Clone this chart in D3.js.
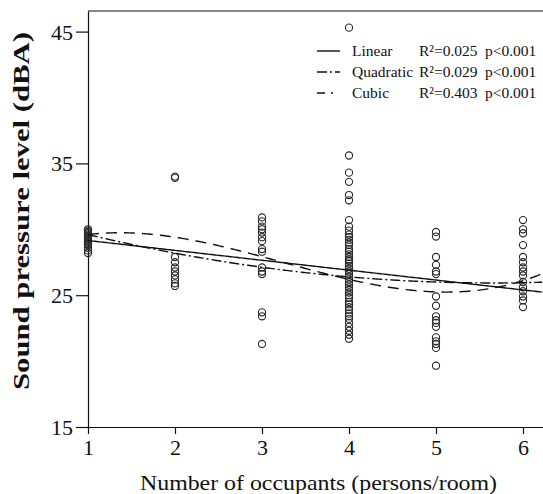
<!DOCTYPE html>
<html lang="en">
  <head>
    <meta charset="utf-8">
    <title>Sound pressure level vs occupants</title>
    <script type="text/javascript" src="https://cdn.jsdelivr.net/npm/d3@7"></script>
    <style type="text/css">
      body { margin: 0; background: #fff; }
      text { font-family: "Liberation Serif", "Times New Roman", serif; fill: #111; }
    </style>
  </head>
  <body>
    <script type="text/javascript">

      //Width and height
      var w = 543;
      var h = 494;

      //Observed values per occupancy (dBA)
      var occupants = [1, 2, 3, 4, 5, 6];
      var spl1 = [30.0, 29.9, 29.8, 29.7, 29.6, 29.5, 29.4, 29.3, 29.2, 29.1, 29.0, 28.9, 28.8, 28.6, 28.4, 28.2];
      var spl2 = [34.0, 33.9, 27.9, 27.5, 27.1, 26.8, 26.5, 26.2, 25.9, 25.7];
      var spl3 = [30.9, 30.6, 30.2, 30.0, 29.75, 29.4, 29.1, 28.5, 28.3, 27.1, 26.8, 26.6, 23.7, 23.4, 21.3];
      var spl4 = [45.3, 35.6, 34.3, 33.6, 32.6, 32.2, 30.7, 30.2, 29.9, 29.6, 29.4, 29.2, 29.0, 28.8, 28.5, 28.3,
                  28.1, 27.9, 27.7, 27.6, 27.4, 27.2, 27.0, 26.8, 26.6, 26.4, 26.2, 26.0, 25.8, 25.6, 25.4,
                  25.2, 25.0, 24.8, 24.5, 24.3, 24.1, 23.9, 23.6, 23.4, 23.2, 22.9, 22.6, 22.3, 22.0, 21.7];
      var spl5 = [29.8, 29.45, 27.9, 27.3, 26.8, 26.6, 24.9, 24.2, 23.4, 23.1, 22.9, 22.6, 21.8, 21.5, 21.3, 21.0, 19.65];
      var spl6 = [30.7, 30.0, 29.7, 28.8, 27.9, 27.5, 27.1, 26.8, 26.5, 26.0, 25.6, 25.3, 24.9, 24.6, 24.1];

      //Fitted curves: polynomial coefficients (constant first)
      var linearCoef = [29.9, -0.75];
      var quadCoef = [31.35, -1.92, 0.17];
      var cubicCoef = [27.5, 3.5917, -1.6625, 0.17083];

      //Legend rows
      var legendNames = ["Linear", "Quadratic", "Cubic"];
      var legendR2 = ["R\u00b2=0.025", "R\u00b2=0.029", "R\u00b2=0.403"];
      var legendP = ["p<0.001", "p<0.001", "p<0.001"];

      //Ticks
      var xTicks = [1, 2, 3, 4, 5, 6];
      var yTicks = [15, 25, 35, 45];

      var groups = [spl1, spl2, spl3, spl4, spl5, spl6];
      var points = [];
      groups.forEach(function(g, i) {
        g.forEach(function(v) { points.push({ x: occupants[i], y: v }); });
      });

      var plotL = 88, plotR = 543, plotT = 11, plotB = 427;

      var xScale = d3.scaleLinear().domain([1, 1 + (plotR - plotL) / 87]).range([plotL, plotR]);
      var yScale = d3.scaleLinear().domain([15, 15 + (plotB - plotT) / 13.18]).range([plotB, plotT]);

      var svg = d3.select("body")
                  .append("svg")
                  .attr("width", w)
                  .attr("height", h);

      //Frame top line
      svg.append("line")
         .attr("x1", plotL).attr("x2", plotR)
         .attr("y1", plotT).attr("y2", plotT)
         .style("stroke", "#111").style("stroke-width", 1.2);

      //Axes
      var xAxis = svg.append("g")
                     .attr("transform", "translate(0," + plotB + ")")
                     .call(d3.axisBottom(xScale).tickValues(xTicks).tickFormat(d3.format("d"))
                             .tickSize(7).tickPadding(5).tickSizeOuter(0));
      var yAxis = svg.append("g")
                     .attr("transform", "translate(" + plotL + ",0)")
                     .call(d3.axisLeft(yScale).tickValues(yTicks).tickFormat(d3.format("d"))
                             .tickSize(12).tickPadding(3).tickSizeOuter(0));

      [xAxis, yAxis].forEach(function(a) {
        a.select(".domain").style("stroke", "#111").style("stroke-width", 1.2);
        a.selectAll(".tick line").style("stroke", "#111").style("stroke-width", 1.2);
        a.selectAll(".tick text")
         .style("font-family", "'Liberation Serif', serif")
         .style("font-size", "22px")
         .style("fill", "#111");
      });
      yAxis.selectAll(".tick text").attr("dy", "0.34em");

      //Points as circles
      svg.append("g")
         .selectAll("circle")
         .data(points)
         .enter()
         .append("circle")
         .attr("cx", function(d) { return xScale(d.x); })
         .attr("cy", function(d) { return yScale(d.y); })
         .attr("r", 3.6)
         .style("fill", "none")
         .style("stroke", "#2a2a2a")
         .style("stroke-width", 1.1);

      //Fit lines
      function poly(c) {
        return function(x) {
          return c.reduce(function(s, k, i) { return s + k * Math.pow(x, i); }, 0);
        };
      }
      var xs = d3.range(1, xScale.domain()[1] + 0.001, 0.02);
      var line = d3.line()
                   .x(function(d) { return xScale(d[0]); })
                   .y(function(d) { return yScale(d[1]); });

      var fits = [
        { coef: linearCoef, dash: null },
        { coef: quadCoef, dash: "10,3,2,3" },
        { coef: cubicCoef, dash: "11,7" }
      ];

      svg.append("g")
         .selectAll("path")
         .data(fits)
         .enter()
         .append("path")
         .attr("d", function(d) {
           var f = poly(d.coef);
           return line(xs.map(function(x) { return [x, f(x)]; }));
         })
         .style("fill", "none")
         .style("stroke", "#111")
         .style("stroke-width", 1.4)
         .style("stroke-dasharray", function(d) { return d.dash; });

      //Legend
      var legend = svg.append("g");
      var rows = legend.selectAll("g")
                       .data(legendNames)
                       .enter()
                       .append("g")
                       .attr("transform", function(d, i) { return "translate(0," + (51 + i * 21) + ")"; });
      rows.append("line")
          .attr("x1", 317).attr("x2", 340)
          .attr("y1", 0).attr("y2", 0)
          .style("stroke", "#111")
          .style("stroke-width", 1.4)
          .style("stroke-dasharray", function(d, i) { return i === 0 ? null : (i === 1 ? "10,3,2,3" : "8,6,2,8"); });
      rows.append("text")
          .attr("x", 352).attr("y", 5)
          .style("font-size", "15.5px")
          .text(function(d) { return d; });
      rows.append("text")
          .attr("x", 419).attr("y", 5)
          .style("font-size", "15.5px")
          .text(function(d, i) { return legendR2[i]; });
      rows.append("text")
          .attr("x", 485).attr("y", 5)
          .style("font-size", "15.5px")
          .text(function(d, i) { return legendP[i]; });

      //Axis titles
      svg.append("text")
         .attr("x", 140).attr("y", 490)
         .attr("textLength", 357)
         .attr("lengthAdjust", "spacingAndGlyphs")
         .style("font-size", "21px")
         .text("Number of occupants (persons/room)");

      svg.append("text")
         .attr("transform", "translate(29,390) rotate(-90)")
         .attr("textLength", 358)
         .attr("lengthAdjust", "spacingAndGlyphs")
         .style("font-size", "23px")
         .style("font-weight", "bold")
         .text("Sound pressure level (dBA)");

    </script>
  </body>
</html>
